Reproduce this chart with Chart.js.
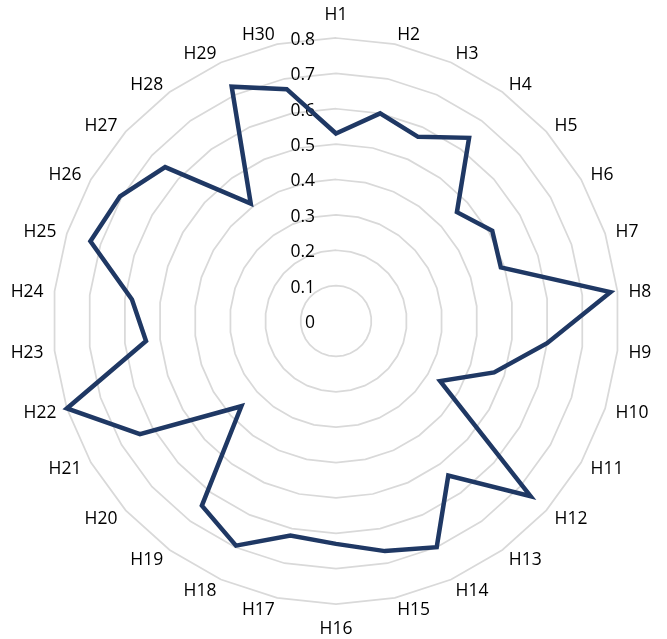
<!DOCTYPE html>
<html>
<head>
<meta charset="utf-8">
<script src="https://cdn.jsdelivr.net/npm/chart.js@4"></script>
<style>
  body { margin: 0; background: #fff; }
  canvas { display: block; }
</style>
</head>
<body>
<canvas id="grafico" width="667" height="639"></canvas>
<script>
// categorias e valores
const categorias = ['H1', 'H2', 'H3', 'H4', 'H5', 'H6', 'H7', 'H8', 'H9', 'H10',
    'H11', 'H12', 'H13', 'H14', 'H15', 'H16', 'H17', 'H18', 'H19', 'H20',
    'H21', 'H22', 'H23', 'H24', 'H25', 'H26', 'H27', 'H28', 'H29', 'H30'];
const valores = [0.53, 0.60, 0.57, 0.64, 0.46, 0.51, 0.49, 0.78, 0.60, 0.47,
    0.34, 0.74, 0.54, 0.70, 0.665, 0.63, 0.62, 0.695, 0.645, 0.36,
    0.64, 0.80, 0.54, 0.58, 0.73, 0.705, 0.65, 0.41, 0.725, 0.67];
const marcas = [0, 0.1, 0.2, 0.3, 0.4, 0.5, 0.6, 0.7, 0.8];
const rotulosMarcas = ['0', '0.1', '0.2', '0.3', '0.4', '0.5', '0.6', '0.7', '0.8'];

const fonte = "'Open Sans', sans-serif";

// rotulos do eixo a esquerda da linha vertical e nomes das categorias
// ancorados pelo meio da borda, como o Excel faz
const rotulos = {
    id: 'rotulos',
    beforeDatasetsDraw(chart) {
        const r = chart.scales.r;
        const c = chart.ctx;
        c.save();
        c.font = '17.5px ' + fonte;
        c.fillStyle = '#000';
        c.textBaseline = 'middle';

        c.textAlign = 'right';
        marcas.forEach((v, i) => {
            const y = r.yCenter - r.getDistanceFromCenterForValue(v);
            c.fillText(rotulosMarcas[i], r.xCenter - 21, y + 2);
        });

        const n = categorias.length;
        categorias.forEach((nome, i) => {
            const p = r.getPointPosition(i, r.drawingArea + 11);
            let dy = 0;
            if (i === 0) {
                c.textAlign = 'center';
                dy = -13;
            } else if (i * 2 === n) {
                c.textAlign = 'center';
                dy = 13;
            } else if (i < n / 2) {
                c.textAlign = 'left';
            } else {
                c.textAlign = 'right';
            }
            c.fillText(nome, p.x, p.y + dy + 1.5);
        });
        c.restore();
    }
};

new Chart(document.getElementById('grafico'), {
    type: 'radar',
    data: {
        labels: categorias,
        datasets: [{
            data: valores,
            borderColor: '#1f3864',
            borderWidth: 4.5,
            fill: false,
            pointRadius: 0,
            pointHoverRadius: 0,
            tension: 0
        }]
    },
    options: {
        responsive: false,
        animation: false,
        devicePixelRatio: 1,
        layout: { padding: { left: 53, right: 47, top: 38, bottom: 34 } },
        plugins: { legend: { display: false }, tooltip: { enabled: false } },
        scales: {
            r: {
                min: 0,
                max: 0.8,
                ticks: { stepSize: 0.1, display: false },
                grid: { color: '#d9d9d9', lineWidth: 1.75, circular: false },
                angleLines: { display: false },
                pointLabels: { display: false }
            }
        }
    },
    plugins: [rotulos]
});
</script>
</body>
</html>
